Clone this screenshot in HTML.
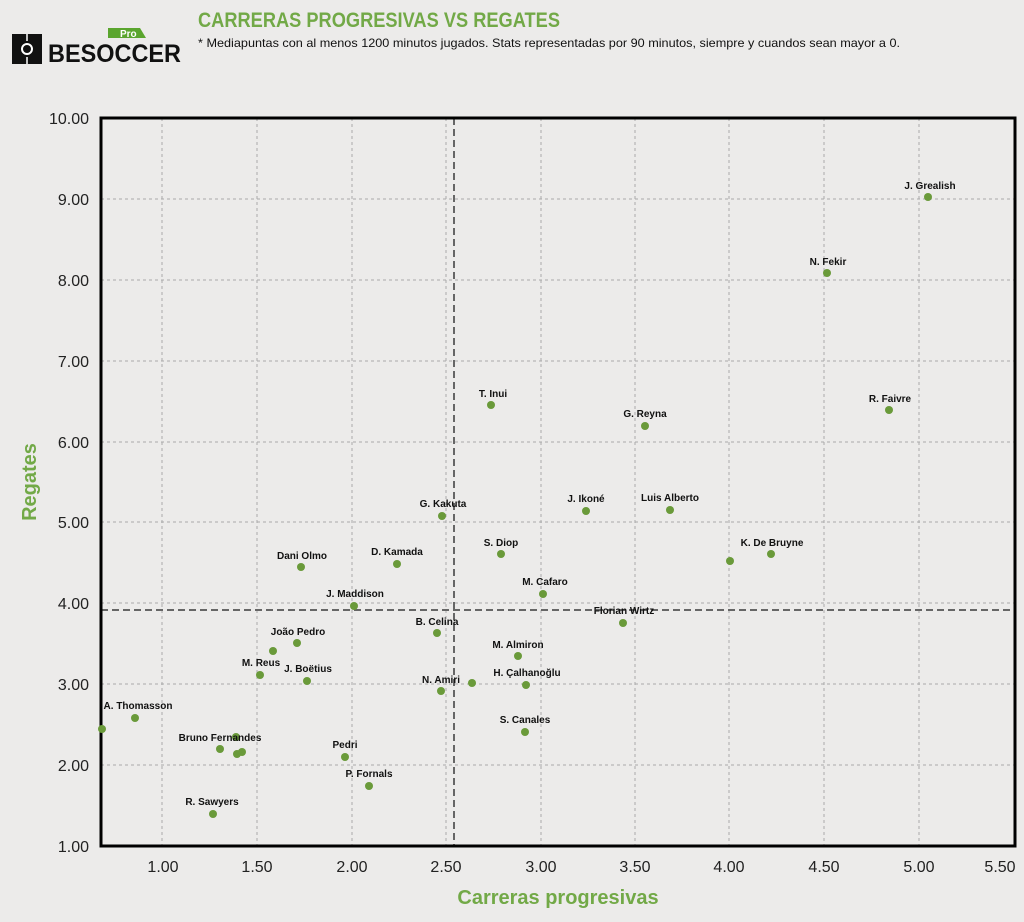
<!DOCTYPE html>
<html><head><meta charset="utf-8"><style>
html,body{margin:0;padding:0;background:#ecebea;}
svg{display:block;font-family:"Liberation Sans",sans-serif;}
.l{font-size:10px;font-weight:bold;fill:#111;text-anchor:middle;}
.t{font-size:16px;fill:#222;}
</style></head><body>
<svg width="1024" height="922" viewBox="0 0 1024 922">
<rect width="1024" height="922" fill="#ecebea"/>
<!-- logo -->
<rect x="12" y="34" width="30" height="30" fill="#111"/>
<circle cx="27" cy="49" r="5" fill="none" stroke="#fff" stroke-width="2"/>
<line x1="27" y1="34" x2="27" y2="41" stroke="#fff" stroke-width="1.5"/>
<line x1="27" y1="57" x2="27" y2="64" stroke="#fff" stroke-width="1.5"/>
<path d="M108 28 L140 28 L146 38 L108 38 Z" fill="#5aa52e"/>
<text x="120" y="37" font-size="10" font-weight="bold" fill="#fff">Pro</text>
<text x="48" y="62" font-size="25" font-weight="bold" fill="#111" textLength="133" lengthAdjust="spacingAndGlyphs">BESOCCER</text>
<text x="198" y="27" font-size="21" font-weight="bold" fill="#72a947" textLength="362" lengthAdjust="spacingAndGlyphs">CARRERAS PROGRESIVAS VS REGATES</text>
<text x="198" y="47" font-size="12" fill="#111" textLength="702" lengthAdjust="spacingAndGlyphs">* Mediapuntas con al menos 1200 minutos jugados. Stats representadas por 90 minutos, siempre y cuandos sean mayor a 0.</text>
<!-- grid -->
<g stroke="#aaa" stroke-width="1" stroke-dasharray="3,3">
<line x1="162" y1="118" x2="162" y2="846"/><line x1="257" y1="118" x2="257" y2="846"/>
<line x1="352" y1="118" x2="352" y2="846"/><line x1="446" y1="118" x2="446" y2="846"/>
<line x1="541" y1="118" x2="541" y2="846"/><line x1="635" y1="118" x2="635" y2="846"/>
<line x1="729" y1="118" x2="729" y2="846"/><line x1="824" y1="118" x2="824" y2="846"/>
<line x1="919" y1="118" x2="919" y2="846"/>
<line x1="101" y1="199" x2="1015" y2="199"/><line x1="101" y1="280" x2="1015" y2="280"/>
<line x1="101" y1="361" x2="1015" y2="361"/><line x1="101" y1="442" x2="1015" y2="442"/>
<line x1="101" y1="522" x2="1015" y2="522"/><line x1="101" y1="603" x2="1015" y2="603"/>
<line x1="101" y1="684" x2="1015" y2="684"/><line x1="101" y1="765" x2="1015" y2="765"/>
</g>
<g stroke="#666" stroke-width="2" stroke-dasharray="7,4">
<line x1="454" y1="118" x2="454" y2="846"/>
<line x1="101" y1="610" x2="1015" y2="610"/>
</g>
<rect x="101" y="118" width="914" height="728" fill="none" stroke="#000" stroke-width="3"/>
<!-- y ticks -->
<g class="t" text-anchor="end">
<text x="89" y="124">10.00</text><text x="89" y="205">9.00</text><text x="89" y="286">8.00</text>
<text x="89" y="367">7.00</text><text x="89" y="448">6.00</text><text x="89" y="528">5.00</text>
<text x="89" y="609">4.00</text><text x="89" y="690">3.00</text><text x="89" y="771">2.00</text>
<text x="89" y="852">1.00</text>
</g>
<g class="t" text-anchor="middle">
<text x="163" y="872">1.00</text><text x="257" y="872">1.50</text><text x="352" y="872">2.00</text>
<text x="446" y="872">2.50</text><text x="541" y="872">3.00</text><text x="635" y="872">3.50</text>
<text x="729" y="872">4.00</text><text x="824" y="872">4.50</text><text x="919" y="872">5.00</text>
<text x="1000" y="872">5.50</text>
</g>
<text x="558" y="904" font-size="20" font-weight="bold" fill="#72a947" text-anchor="middle">Carreras progresivas</text>
<text transform="translate(36,482) rotate(-90)" font-size="20" font-weight="bold" fill="#72a947" text-anchor="middle">Regates</text>
<!-- points -->
<g fill="#6a9a3a">
<circle cx="928" cy="197" r="4"/><circle cx="827" cy="273" r="4"/><circle cx="889" cy="410" r="4"/>
<circle cx="491" cy="405" r="4"/><circle cx="645" cy="426" r="4"/><circle cx="670" cy="510" r="4"/>
<circle cx="586" cy="511" r="4"/><circle cx="442" cy="516" r="4"/><circle cx="501" cy="554" r="4"/>
<circle cx="397" cy="564" r="4"/><circle cx="301" cy="567" r="4"/><circle cx="771" cy="554" r="4"/>
<circle cx="730" cy="561" r="4"/><circle cx="543" cy="594" r="4"/><circle cx="354" cy="606" r="4"/>
<circle cx="623" cy="623" r="4"/><circle cx="437" cy="633" r="4"/><circle cx="297" cy="643" r="4"/>
<circle cx="273" cy="651" r="4"/><circle cx="518" cy="656" r="4"/><circle cx="260" cy="675" r="4"/>
<circle cx="307" cy="681" r="4"/><circle cx="526" cy="685" r="4"/><circle cx="472" cy="683" r="4"/>
<circle cx="441" cy="691" r="4"/><circle cx="135" cy="718" r="4"/><circle cx="102" cy="729" r="4"/>
<circle cx="525" cy="732" r="4"/><circle cx="220" cy="749" r="4"/><circle cx="236" cy="737" r="4"/>
<circle cx="237" cy="754" r="4"/><circle cx="242" cy="752" r="4"/><circle cx="345" cy="757" r="4"/>
<circle cx="369" cy="786" r="4"/><circle cx="213" cy="814" r="4"/>
</g>
<g class="l">
<text x="930" y="189">J. Grealish</text><text x="828" y="265">N. Fekir</text><text x="890" y="402">R. Faivre</text>
<text x="493" y="397">T. Inui</text><text x="645" y="417">G. Reyna</text><text x="670" y="501">Luis Alberto</text>
<text x="586" y="502">J. Ikoné</text><text x="443" y="507">G. Kakuta</text><text x="501" y="546">S. Diop</text>
<text x="397" y="555">D. Kamada</text><text x="302" y="559">Dani Olmo</text><text x="772" y="546">K. De Bruyne</text>
<text x="545" y="585">M. Cafaro</text><text x="355" y="597">J. Maddison</text><text x="624" y="614">Florian Wirtz</text>
<text x="437" y="625">B. Celina</text><text x="298" y="635">João Pedro</text><text x="518" y="648">M. Almiron</text>
<text x="261" y="666">M. Reus</text><text x="308" y="672">J. Boëtius</text><text x="527" y="676">H. Çalhanoğlu</text>
<text x="441" y="683">N. Amiri</text><text x="138" y="709">A. Thomasson</text><text x="525" y="723">S. Canales</text>
<text x="220" y="741">Bruno Fernandes</text><text x="345" y="748">Pedri</text><text x="369" y="777">P. Fornals</text>
<text x="212" y="805">R. Sawyers</text>
</g>
</svg>
</body></html>
